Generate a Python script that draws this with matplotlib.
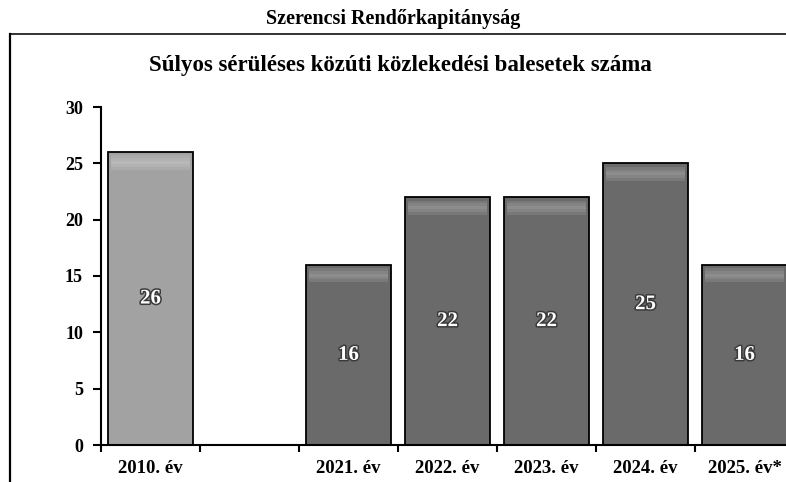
import matplotlib.pyplot as plt
import matplotlib.patheffects as pe
from matplotlib.lines import Line2D

plt.rcParams['font.family'] = ['Liberation Serif', 'DejaVu Serif']

# chart data
categories = ['2010. év', '', '2021. év', '2022. év', '2023. év', '2024. év', '2025. év*']
values = [26, None, 16, 22, 22, 25, 16]
colors = ['#a2a2a2', None, '#6a6a6a', '#6a6a6a', '#6a6a6a', '#6a6a6a', '#6a6a6a']

fig = plt.figure(figsize=(7.86, 4.82), dpi=100)
fig.patch.set_facecolor('white')

# outer frame: top line (doubles as title underline) and left line
fig.add_artist(Line2D([10 / 786, 1.0], [1 - 34 / 482] * 2, color='#222222', lw=1.3))
fig.add_artist(Line2D([10 / 786] * 2, [0, 1 - 34 / 482], color='black', lw=1.6))

fig.text(0.5, 1 - 19 / 482, 'Szerencsi Rendőrkapitányság', ha='center', va='center',
         fontsize=14.5, fontweight='bold')
fig.text(0.509, 1 - 66 / 482, 'Súlyos sérüléses közúti közlekedési balesetek száma',
         ha='center', va='center', fontsize=16.5, fontweight='bold')

ax = fig.add_axes([101 / 786, 37 / 482, 693 / 786, 338 / 482])

for i, (v, c) in enumerate(zip(values, colors)):
    if v is None:
        continue
    ax.bar(i, v, width=0.86, color=c, edgecolor='black', linewidth=1.3, zorder=2)
    # soft highlight near the top of each bar
    for k, a in enumerate([0.10, 0.18, 0.24, 0.18, 0.10]):
        ax.bar(i, 0.25, bottom=v - 1.55 + 0.25 * k, width=0.80, color='white',
               alpha=a, linewidth=0, zorder=3)
    ax.text(i, v / 2, str(v), ha='center', va='center', color='white',
            fontsize=15, fontweight='bold', zorder=4,
            path_effects=[pe.withStroke(linewidth=2.2, foreground='#3a3a3a')])

ax.set_xlim(-0.5, 6.5)
ax.set_ylim(0, 30)
ax.set_yticks(range(0, 31, 5))
ax.set_xticks([i - 0.5 for i in range(len(categories))] + [6.5])
ax.set_xticklabels([])
ax.set_xticks(range(len(categories)), minor=True)
ax.set_xticklabels(categories, minor=True)
ax.tick_params(axis='x', which='minor', length=0, pad=11, labelsize=13.5)
ax.tick_params(axis='x', which='major', length=5, width=1.5, direction='out')
ax.tick_params(axis='y', length=6, width=1.5, direction='out', labelsize=13, pad=7)
for lab in ax.get_xticklabels(minor=True) + ax.get_yticklabels():
    lab.set_fontweight('bold')

ax.spines['top'].set_visible(False)
ax.spines['right'].set_visible(False)
ax.spines['left'].set_linewidth(1.5)
ax.spines['bottom'].set_linewidth(1.5)

fig.savefig('out.png', dpi=100)
